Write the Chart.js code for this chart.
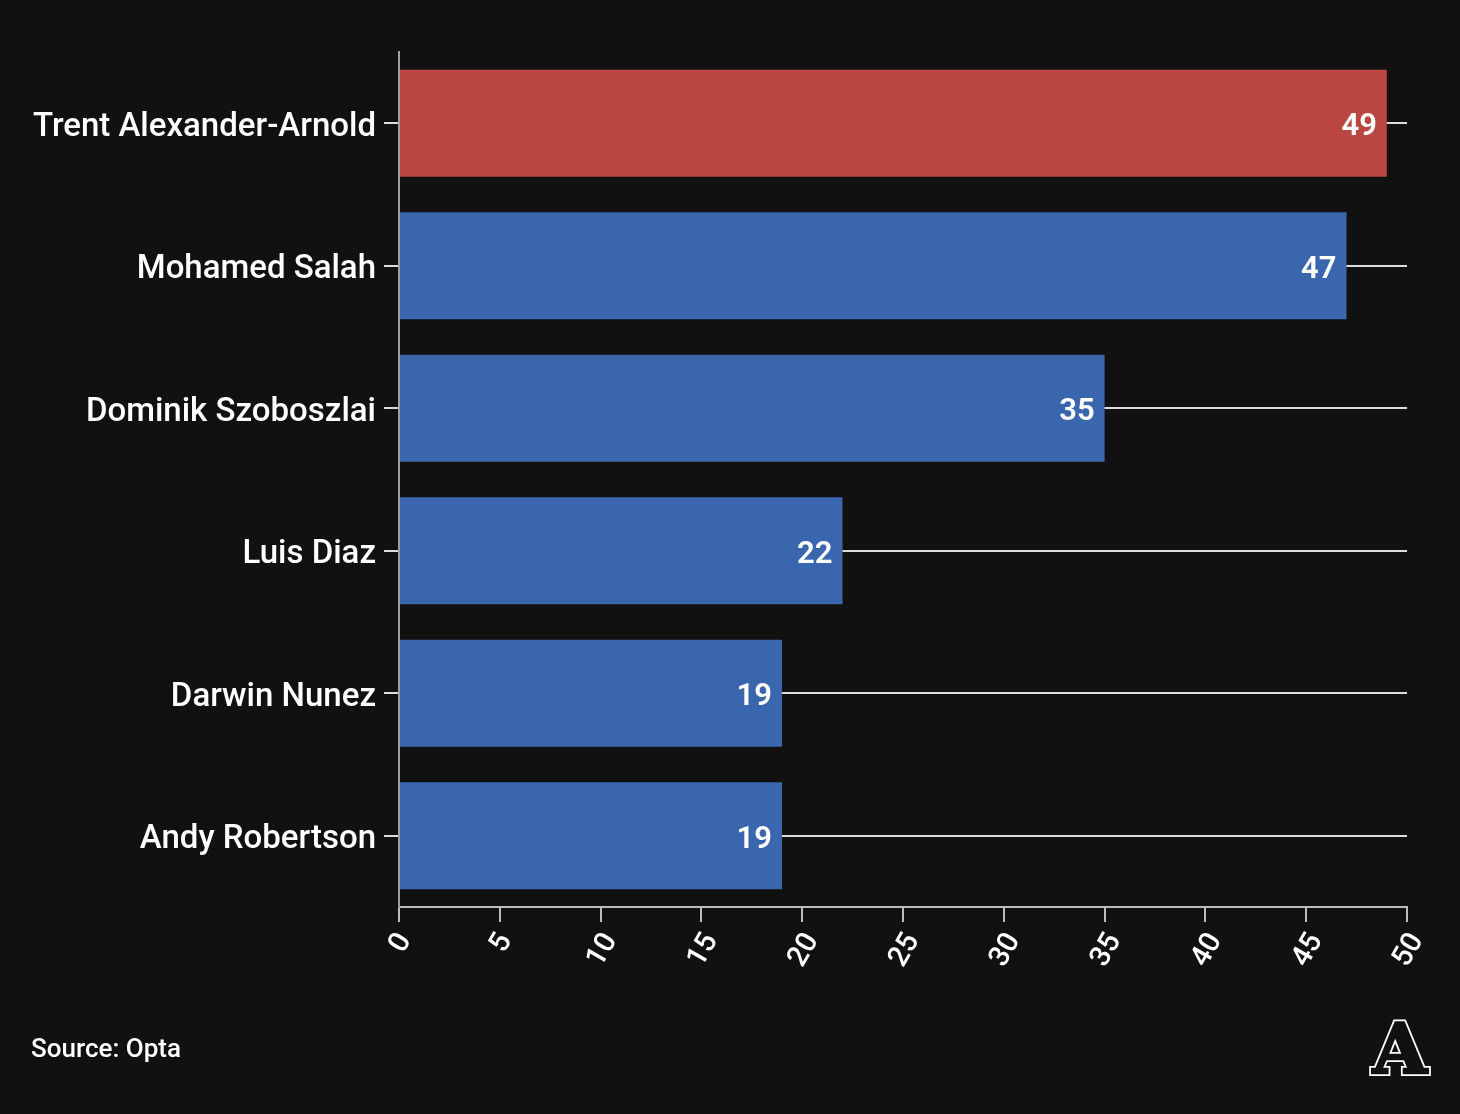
<!DOCTYPE html>
<html>
<head>
<meta charset="utf-8">
<script src="https://cdn.jsdelivr.net/npm/chart.js@4"></script>
<style>
  html, body { margin: 0; padding: 0; background: #111111; }
  #wrap { position: relative; width: 1460px; height: 1114px; }
  canvas { display: block; }
</style>
</head>
<body>
<div id="wrap"><canvas id="c" width="1460" height="1114"></canvas></div>
<script>
const categories = ['Trent Alexander-Arnold', 'Mohamed Salah', 'Dominik Szoboszlai', 'Luis Diaz', 'Darwin Nunez', 'Andy Robertson'];
const values = [49, 47, 35, 22, 19, 19];
const barColors = ['#bb4743', '#3a66ad', '#3a66ad', '#3a66ad', '#3a66ad', '#3a66ad'];
const axisMin = 0;
const axisMax = 50;
const tickStep = 5;
const sourceText = 'Source: Opta';

const BG = '#111111';

const valueLabels = {
  id: 'valueLabels',
  afterDatasetsDraw(chart) {
    const ctx = chart.ctx;
    const meta = chart.getDatasetMeta(0);
    ctx.save();
    ctx.fillStyle = '#ffffff';
    ctx.font = '600 31px Roboto';
    ctx.textAlign = 'right';
    ctx.textBaseline = 'middle';
    meta.data.forEach((el, i) => {
      ctx.fillText(String(values[i]), el.x - 10, el.y + 4);
    });
    ctx.restore();
  }
};

const rotatedTicks = {
  id: 'rotatedTicks',
  afterDraw(chart) {
    const ctx = chart.ctx;
    const sx = chart.scales.x;
    const theta = 60 * Math.PI / 180;
    ctx.save();
    ctx.fillStyle = '#ffffff';
    ctx.font = '500 29px Roboto';
    ctx.textAlign = 'center';
    ctx.textBaseline = 'middle';
    const h = 20;
    sx.ticks.forEach(t => {
      const label = String(t.value);
      const w = ctx.measureText(label).width;
      const x = sx.getPixelForValue(t.value) + 2;
      const cy = chart.chartArea.bottom + 24 + (w * Math.sin(theta) + h * Math.cos(theta)) / 2;
      ctx.save();
      ctx.translate(x, cy);
      ctx.rotate(-theta);
      ctx.fillText(label, 0, 0);
      ctx.restore();
    });
    // source
    ctx.textAlign = 'left';
    ctx.textBaseline = 'middle';
    ctx.font = '500 26px Roboto';
    ctx.fillStyle = '#ffffff';
    ctx.fillText(sourceText, 31, 1050);
    // logo
    ctx.font = 'bold 70px "DejaVu Serif"';
    ctx.textAlign = 'center';
    ctx.textBaseline = 'alphabetic';
    ctx.lineJoin = 'miter';
    ctx.strokeStyle = '#ffffff';
    ctx.lineWidth = 6;
    ctx.strokeText('A', 1400, 1073);
    ctx.strokeStyle = BG;
    ctx.lineWidth = 2.5;
    ctx.strokeText('A', 1400, 1073);
    ctx.fillStyle = BG;
    ctx.fillText('A', 1400, 1073);
    ctx.restore();
  }
};

new Chart(document.getElementById('c'), {
  type: 'bar',
  data: {
    labels: categories,
    datasets: [{
      data: values,
      backgroundColor: barColors,
      borderWidth: 0,
      barPercentage: 0.75,
      categoryPercentage: 1.0
    }]
  },
  options: {
    indexAxis: 'y',
    responsive: false,
    animation: false,
    devicePixelRatio: 1,
    layout: { padding: { left: 0, right: 53, top: 52, bottom: 107 } },
    plugins: { legend: { display: false }, tooltip: { enabled: false } },
    scales: {
      x: {
        type: 'linear',
        min: axisMin,
        max: axisMax,
        afterFit(scale) { scale.height = 100; },
        ticks: { stepSize: tickStep, display: false },
        grid: { drawOnChartArea: false, drawTicks: true, tickLength: 15, color: '#bdbdbd', lineWidth: 2 },
        border: { display: true, color: '#bdbdbd', width: 2 }
      },
      y: {
        type: 'category',
        afterFit(scale) { scale.width = 399; },
        ticks: { color: '#ffffff', font: { family: 'Roboto', size: 33, weight: '500' }, padding: 8, labelOffset: 4 },
        grid: { offset: false, drawOnChartArea: true, drawTicks: true, tickLength: 15, color: '#dcdcdc', lineWidth: 2 },
        border: { display: true, color: '#a0a0a0', width: 2 }
      }
    }
  },
  plugins: [valueLabels, rotatedTicks]
});
</script>
</body>
</html>
